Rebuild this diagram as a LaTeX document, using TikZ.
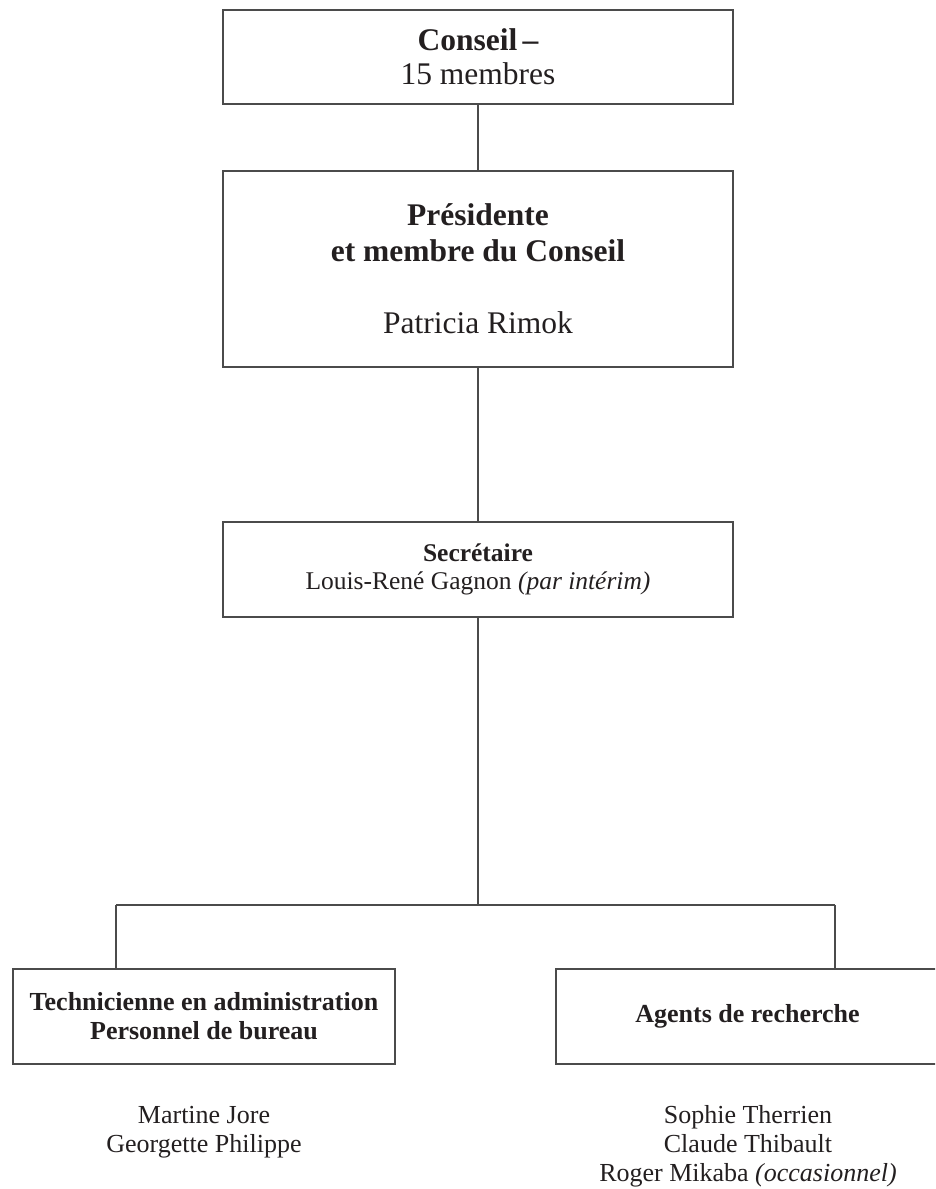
\documentclass[tikz,border=0pt]{standalone}
\usepackage{fontspec}
\setmainfont{Liberation Serif}
\definecolor{linec}{RGB}{75,75,75}
\definecolor{textc}{RGB}{35,31,32}
\begin{document}
\begin{tikzpicture}[x=1pt,y=-1pt]
\tikzset{
  box/.style={draw=linec, line width=1.6pt, rectangle, inner sep=0pt, align=center, text=textc},
  conn/.style={draw=linec, line width=1.4pt},
  names/.style={align=center, text=textc, inner sep=0pt, anchor=base, font=\fontsize{26}{29}\selectfont}
}
\useasboundingbox (0,0) rectangle (935,1189);
\clip (0,0) rectangle (935,1189);

\node[box, minimum width=510, minimum height=94, font=\fontsize{31.5}{34}\selectfont] (conseil) at (478,57)
  {\textbf{Conseil\,–}\\15 membres};
\node[box, minimum width=510, minimum height=196, font=\fontsize{31.5}{36}\selectfont] (pres) at (478,269)
  {\textbf{Présidente}\\\textbf{et membre du Conseil}\\[36pt]Patricia Rimok};
\node[box, minimum width=510, minimum height=95, font=\fontsize{25.5}{28}\selectfont] (sec) at (478,569.5)
  {\textbf{Secrétaire}\\Louis-René Gagnon \textit{(par intérim)}};
\node[box, minimum width=382, minimum height=95, font=\fontsize{26}{29}\selectfont] (tech) at (204,1016.5)
  {\textbf{Technicienne en administration}\\\textbf{Personnel de bureau}};
\node[box, minimum width=383, minimum height=95, font=\fontsize{26}{29}\selectfont] (agents) at (747.5,1016.5)
  {\textbf{Agents de recherche}};

\node[names] (techn) at (204,1152) {Martine Jore\\Georgette Philippe};
\node[names] (agentsn) at (748,1181) {Sophie Therrien\\Claude Thibault\\Roger Mikaba \textit{(occasionnel)}};

\coordinate (j) at (478,905);
\coordinate (jl) at (116,905);
\coordinate (jr) at (835,905);

\draw[conn] (conseil.south) -- (pres.north);
\draw[conn] (pres.south) -- (sec.north);
\draw[conn] (sec.south) -- (j);
\draw[conn] (jl) -- (jr);
\draw[conn] (jl) -- (jl |- tech.north);
\draw[conn] (jr) -- (jr |- agents.north);
\end{tikzpicture}
\end{document}
